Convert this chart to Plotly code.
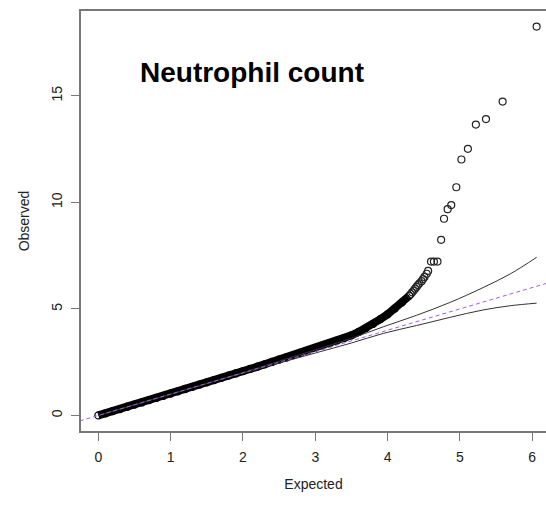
import plotly.graph_objects as go

# Dense part of the QQ band (expected vs observed -log10 p)
band_x = [0.0, 0.1, 0.2, 0.3, 0.4, 0.5, 0.6, 0.7, 0.8, 0.9, 1.0,
          1.1, 1.2, 1.3, 1.4, 1.5, 1.6, 1.7, 1.8, 1.9, 2.0,
          2.1, 2.2, 2.3, 2.4, 2.5, 2.6, 2.7, 2.8, 2.9, 3.0,
          3.1, 3.2, 3.3, 3.4, 3.5, 3.6, 3.7, 3.8, 3.9, 4.0,
          4.1, 4.2, 4.3]
band_y = [0.0, 0.1, 0.2, 0.3, 0.41, 0.51, 0.61, 0.72, 0.82, 0.92, 1.03,
          1.13, 1.24, 1.34, 1.45, 1.55, 1.66, 1.76, 1.87, 1.97, 2.08,
          2.19, 2.29, 2.40, 2.51, 2.62, 2.72, 2.83, 2.94, 3.05, 3.17,
          3.28, 3.39, 3.51, 3.63, 3.76, 3.92, 4.10, 4.30, 4.52, 4.75,
          5.02, 5.31, 5.62]

# Sparse tail points
tail_x = [4.32, 4.34, 4.36, 4.38, 4.40, 4.42, 4.44, 4.47, 4.49, 4.51, 4.54,
          4.56, 4.60, 4.64, 4.69, 4.74, 4.78, 4.83, 4.88, 4.95, 5.02,
          5.11, 5.22, 5.36, 5.59, 6.06]
tail_y = [5.70, 5.78, 5.86, 5.95, 6.03, 6.12, 6.20, 6.30, 6.40, 6.50, 6.65,
          6.78, 7.22, 7.22, 7.22, 8.24, 9.23, 9.68, 9.87, 10.71, 12.01,
          12.51, 13.65, 13.91, 14.73, 18.25]

# 95% confidence band
ci_x = [0.0, 1.0, 2.0, 2.5, 3.0, 3.5, 3.94, 4.4, 4.86, 5.32, 5.7, 6.06]
ci_upper = [0.0, 1.0, 2.02, 2.55, 3.08, 3.62, 4.16, 4.70, 5.30, 6.0, 6.65, 7.42]
ci_lower = [0.0, 1.0, 1.98, 2.46, 2.93, 3.40, 3.85, 4.22, 4.60, 4.95, 5.15, 5.27]

# y = x reference line
diag_x = [-1.0, 7.0]
diag_y = [-1.0, 7.0]

x_ticks = [0, 1, 2, 3, 4, 5, 6]
y_ticks = [0, 5, 10, 15]

FONT = "Liberation Sans, Arial, sans-serif"
AX = "#777777"

fig = go.Figure()

fig.add_trace(go.Scatter(
    x=band_x, y=band_y, mode="lines+markers",
    line=dict(color="black", width=8),
    marker=dict(symbol="circle-open", size=7, color="black", line=dict(width=1.3)),
    showlegend=False, hoverinfo="skip"))

fig.add_trace(go.Scatter(
    x=tail_x, y=tail_y, mode="markers",
    marker=dict(symbol="circle-open", size=7, color="#222222", line=dict(width=1.2)),
    showlegend=False))

for cy in (ci_upper, ci_lower):
    fig.add_trace(go.Scatter(
        x=ci_x, y=cy, mode="lines", line=dict(color="#333333", width=1, shape="spline"),
        showlegend=False, hoverinfo="skip"))

fig.add_trace(go.Scatter(
    x=diag_x, y=diag_y, mode="lines",
    line=dict(color="#a060e0", width=1, dash="4px,3px"),
    showlegend=False, hoverinfo="skip"))

fig.add_annotation(
    x=2.12, y=16.08, xref="x", yref="y", text="<b>Neutrophil count</b>",
    showarrow=False, font=dict(family=FONT, size=28, color="black"),
    xanchor="center", yanchor="middle")

fig.update_layout(
    width=546, height=506,
    margin=dict(l=81, r=0, t=11, b=75),
    paper_bgcolor="white", plot_bgcolor="white",
    font=dict(family=FONT, size=14, color="#222222"),
    xaxis=dict(
        range=[-0.24, 6.19], tickvals=x_ticks, ticks="outside", ticklen=8,
        tickcolor=AX, tickwidth=1.3, showline=True, linecolor=AX, linewidth=1.5,
        mirror=True, showgrid=False, zeroline=False,
        tickfont=dict(size=14), ticklabelstandoff=4,
        title=dict(text="Expected", font=dict(size=14), standoff=16)),
    yaxis=dict(
        range=[-0.73, 18.98], tickvals=y_ticks, ticks="outside", ticklen=8,
        tickcolor=AX, tickwidth=1.3, showline=True, linecolor=AX, linewidth=1.5,
        mirror=False, showgrid=False, zeroline=False, tickangle=-90,
        tickfont=dict(size=14), ticklabelstandoff=4,
        title=dict(text="Observed", font=dict(size=14), standoff=16)),
)

fig.write_html("out.html")
